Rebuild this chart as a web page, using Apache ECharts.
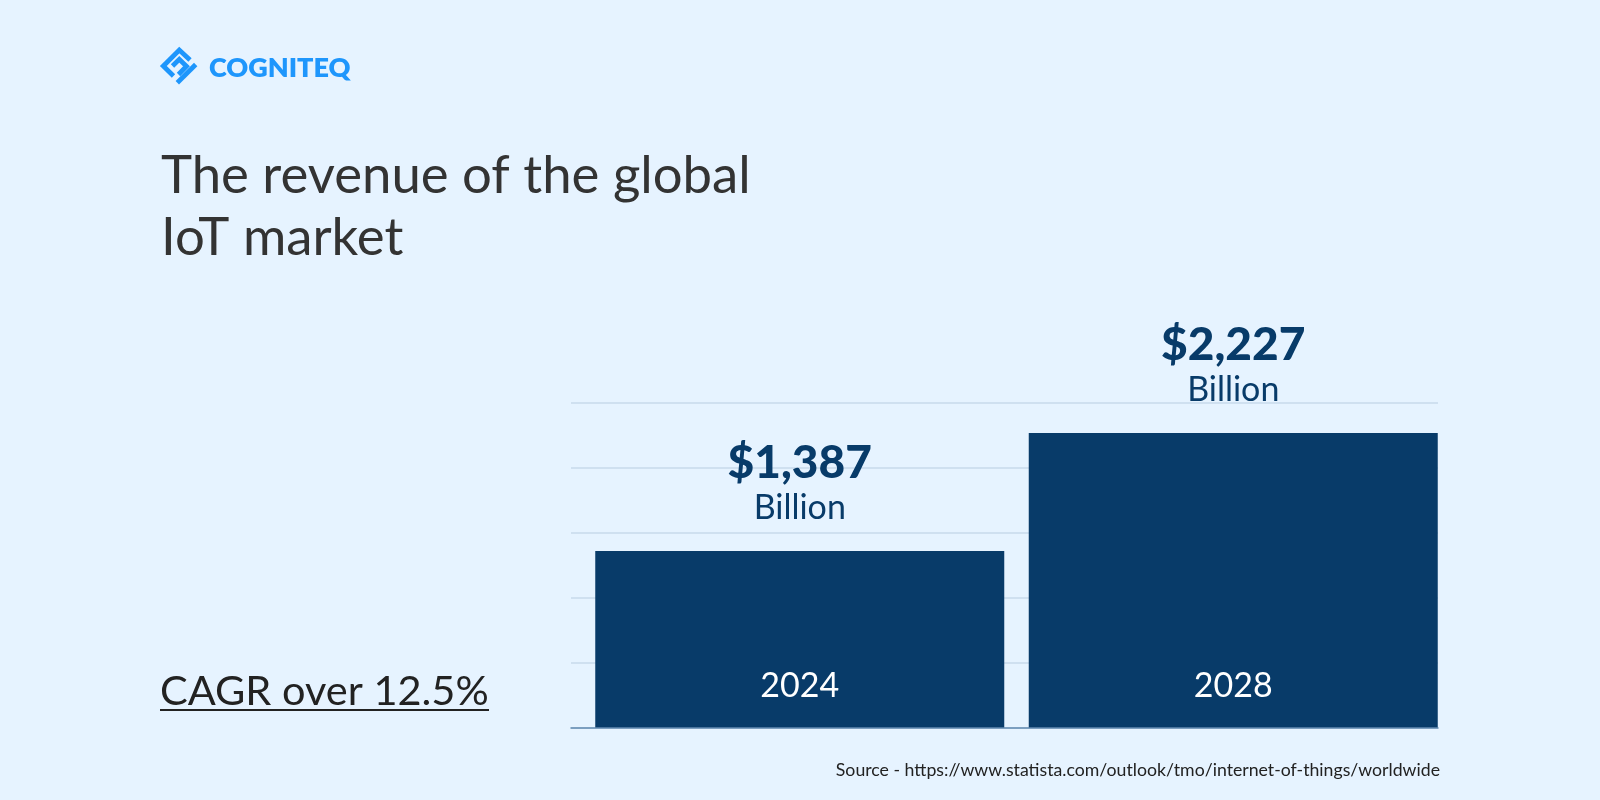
<!DOCTYPE html>
<html><head><meta charset="utf-8">
<style>html,body{margin:0;padding:0;background:#E6F3FF}#c{width:1600px;height:800px}</style>
<script src="https://cdn.jsdelivr.net/npm/echarts@6/dist/echarts.min.js"></script>
</head><body><div id="c"></div>
<script>
const categories = ['2024', '2028'];
const revenueBillion = [1387, 2227];
const unitLabel = 'Billion';
const titleLines = ['The revenue of the global', 'IoT market'];
const cagrText = 'CAGR over 12.5%';
const sourceText = 'Source - https://www.statista.com/outlook/tmo/internet-of-things/worldwide';
const brandText = 'COGNITEQ';

const navy = '#083B69', blue = '#1E96FC', FONT = 'Lato';
const chart = echarts.init(document.getElementById('c'), null, {renderer: 'canvas'});
const money = v => '$' + v.toLocaleString('en-US');

chart.setOption({
  animation: false,
  backgroundColor: '#E6F3FF',
  textStyle: {fontFamily: FONT},
  grid: [
    {left: 571, top: 403, width: 867, height: 325},
    {left: 583, top: 403, width: 867, height: 325}
  ],
  xAxis: [
    {gridIndex: 0, type: 'value', min: 0, max: 1, z: 6, axisLabel: {show: false}, axisTick: {show: false},
     splitLine: {show: false},
     axisLine: {show: true, onZero: false, lineStyle: {color: '#6289B0', width: 1.5}}},
    {gridIndex: 1, type: 'category', data: categories, z: 7,
     axisLine: {show: false}, axisTick: {show: false},
     axisLabel: {inside: true, color: '#FFFFFF', fontFamily: FONT, fontSize: 34, margin: 25}}
  ],
  yAxis: [
    {gridIndex: 0, type: 'value', min: 0, max: 5, interval: 1, axisLabel: {show: false},
     axisTick: {show: false}, axisLine: {show: false},
     splitLine: {show: true, lineStyle: {color: '#CFE0F0', width: 2}}},
    {gridIndex: 1, type: 'value', min: 127, max: 2440, axisLabel: {show: false},
     axisTick: {show: false}, axisLine: {show: false}, splitLine: {show: false}}
  ],
  series: [{
    type: 'bar', xAxisIndex: 1, yAxisIndex: 1, data: revenueBillion, barWidth: 409,
    itemStyle: {color: navy},
    label: {
      show: true, position: 'top', distance: 22, align: 'center',
      formatter: p => '{v|' + money(p.value) + '}\n{u|' + unitLabel + '}',
      rich: {
        v: {fontFamily: FONT, fontSize: 46, fontWeight: 900, color: navy, lineHeight: 48, align: 'center'},
        u: {fontFamily: FONT, fontSize: 34, color: navy, lineHeight: 42, align: 'center'}
      }
    }
  }],
  graphic: [
    {type: 'polyline', shape: {points: [[190,60],[179.3,50],[163.3,66],[173.5,76]]}, style: {stroke: blue, fill: 'none', lineWidth: 4.8}},
    {type: 'polyline', shape: {points: [[172.5,66],[179.3,59.3],[186.5,66.3],[178.5,74.5]]}, style: {stroke: blue, fill: 'none', lineWidth: 4.8}},
    {type: 'polyline', shape: {points: [[195.7,64.5],[177.3,82.7]]}, style: {stroke: blue, fill: 'none', lineWidth: 4.8}},
    {type: 'text', x: 209, y: 68, style: {text: brandText, fontFamily: FONT, fontWeight: 800, fontSize: 27, fill: blue, verticalAlign: 'middle'}},
    {type: 'text', x: 161, y: 176.5, style: {text: titleLines[0], fontFamily: FONT, fontSize: 52.7, fill: '#333333', verticalAlign: 'middle'}},
    {type: 'text', x: 161, y: 238.5, style: {text: titleLines[1], fontFamily: FONT, fontSize: 52.7, fill: '#333333', verticalAlign: 'middle'}},
    {type: 'text', x: 160, y: 692, style: {text: cagrText, fontFamily: FONT, fontSize: 41.5, fill: '#222222', verticalAlign: 'middle'}},
    {type: 'line', shape: {x1: 160, y1: 710, x2: 489, y2: 710}, style: {stroke: '#222222', lineWidth: 2}},
    {type: 'text', x: 1440, y: 770, style: {text: sourceText, fontFamily: FONT, fontSize: 17.7, fill: '#222222', align: 'right', verticalAlign: 'middle'}}
  ]
});
</script></body></html>
